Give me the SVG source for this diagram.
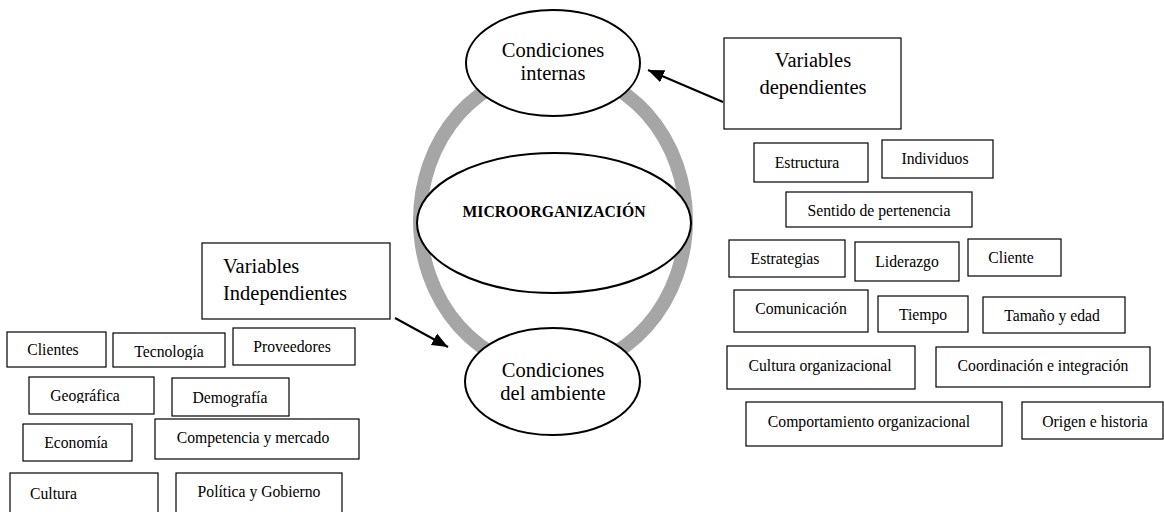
<svg xmlns="http://www.w3.org/2000/svg" width="1164" height="512" viewBox="0 0 1164 512">
<style>
text{font-family:"Liberation Serif","Times New Roman",serif;fill:#000}
.big{font-size:20.5px}
.sm{font-size:15.7px;text-anchor:middle}
.c{text-anchor:middle}
.box{fill:#fff;stroke:#000;stroke-width:1.2}
.ell{fill:#fff;stroke:#000;stroke-width:2}
.arr{stroke:#000;stroke-width:2;fill:none;marker-end:url(#ah)}
</style>
<defs>
<marker id="ah" viewBox="-16 -7 16 14" refX="0" refY="0" markerWidth="16" markerHeight="14" markerUnits="userSpaceOnUse" orient="auto">
<path d="M-16,-6.5 L0,0 L-16,6.5 z" fill="#000"/>
</marker>
<clipPath id="clipTec"><rect x="113" y="333" width="112" height="27"/></clipPath>
<clipPath id="clipGeo"><rect x="29" y="377" width="125" height="26"/></clipPath>
</defs>
<rect width="1164" height="512" fill="#fff"/>
<g id="ring"><ellipse cx="553" cy="220" rx="133" ry="150" fill="none" stroke="#a6a6a6" stroke-width="14"/></g>
<g id="micro"><ellipse class="ell" cx="554" cy="223" rx="137" ry="70"/><text x="554" y="217" class="c" style="font-size:15.7px;font-weight:bold">MICROORGANIZACIÓN</text></g>
<g id="internas"><ellipse class="ell" cx="553" cy="63" rx="87" ry="53"/><text class="big c" x="553" y="57">Condiciones</text><text class="big c" x="553" y="80">internas</text></g>
<g id="ambiente"><ellipse class="ell" cx="552.5" cy="381.5" rx="87.5" ry="53.5"/><text class="big c" x="553" y="377">Condiciones</text><text class="big c" x="553" y="400">del ambiente</text></g>
<g id="connectors">
<line class="arr" x1="723" y1="102" x2="648" y2="70"/>
<line class="arr" x1="395" y1="318" x2="448" y2="347"/>
</g>
<g id="var-dep"><rect class="box" x="724" y="38" width="177" height="91"/><text class="big c" x="813" y="67">Variables</text><text class="big c" x="813" y="94">dependientes</text></g>
<g id="var-ind"><rect class="box" x="202" y="243" width="188" height="76"/><text class="big" x="223" y="273">Variables</text><text class="big" x="223" y="300">Independientes</text></g>
<g id="estructura"><rect class="box" x="754" y="143" width="114" height="39"/><text class="sm" x="807" y="168">Estructura</text></g>
<g id="individuos"><rect class="box" x="882" y="140" width="111" height="38"/><text class="sm" x="935" y="164">Individuos</text></g>
<g id="sentido"><rect class="box" x="786" y="192" width="186" height="35"/><text class="sm" x="879" y="216">Sentido de pertenencia</text></g>
<g id="estrategias"><rect class="box" x="729" y="240" width="116" height="37"/><text class="sm" x="785" y="264">Estrategias</text></g>
<g id="liderazgo"><rect class="box" x="855" y="242" width="104" height="39"/><text class="sm" x="907" y="267">Liderazgo</text></g>
<g id="cliente"><rect class="box" x="968" y="239" width="93" height="37"/><text class="sm" x="1011" y="263">Cliente</text></g>
<g id="comunicacion"><rect class="box" x="734" y="290" width="134" height="42"/><text class="sm" x="801" y="314">Comunicación</text></g>
<g id="tiempo"><rect class="box" x="878" y="296" width="90" height="36"/><text class="sm" x="923" y="320">Tiempo</text></g>
<g id="tamano"><rect class="box" x="983" y="297" width="142" height="36"/><text class="sm" x="1052" y="321">Tamaño y edad</text></g>
<g id="cultura-org"><rect class="box" x="727" y="346" width="188" height="43"/><text class="sm" x="820" y="371">Cultura organizacional</text></g>
<g id="coordinacion"><rect class="box" x="936" y="347" width="214" height="40"/><text class="sm" x="1043" y="371">Coordinación e integración</text></g>
<g id="comportamiento"><rect class="box" x="746" y="402" width="256" height="44"/><text class="sm" x="869" y="427">Comportamiento organizacional</text></g>
<g id="origen"><rect class="box" x="1022" y="402" width="141" height="37"/><text class="sm" x="1095" y="427">Origen e historia</text></g>
<g id="clientes"><rect class="box" x="7" y="332" width="99" height="35"/><text class="sm" x="53" y="355">Clientes</text></g>
<g id="tecnologia"><rect class="box" x="113" y="333" width="112" height="34"/><text class="sm" x="169" y="357" clip-path="url(#clipTec)">Tecnología</text></g>
<g id="proveedores"><rect class="box" x="233" y="328" width="122" height="37"/><text class="sm" x="292" y="352">Proveedores</text></g>
<g id="geografica"><rect class="box" x="29" y="377" width="125" height="37"/><text class="sm" x="85" y="401" clip-path="url(#clipGeo)">Geográfica</text></g>
<g id="demografia"><rect class="box" x="172" y="378" width="117" height="38"/><text class="sm" x="230" y="403">Demografía</text></g>
<g id="economia"><rect class="box" x="23" y="424" width="109" height="37"/><text class="sm" x="76" y="448">Economía</text></g>
<g id="competencia"><rect class="box" x="155" y="419" width="204" height="40"/><text class="sm" x="253" y="443">Competencia y mercado</text></g>
<g id="cultura"><rect class="box" x="10" y="473" width="148" height="45"/><text style="font-size:15.7px" x="30" y="499">Cultura</text></g>
<g id="politica"><rect class="box" x="176" y="473" width="166" height="45"/><text class="sm" x="259" y="497">Política y Gobierno</text></g>
</svg>
